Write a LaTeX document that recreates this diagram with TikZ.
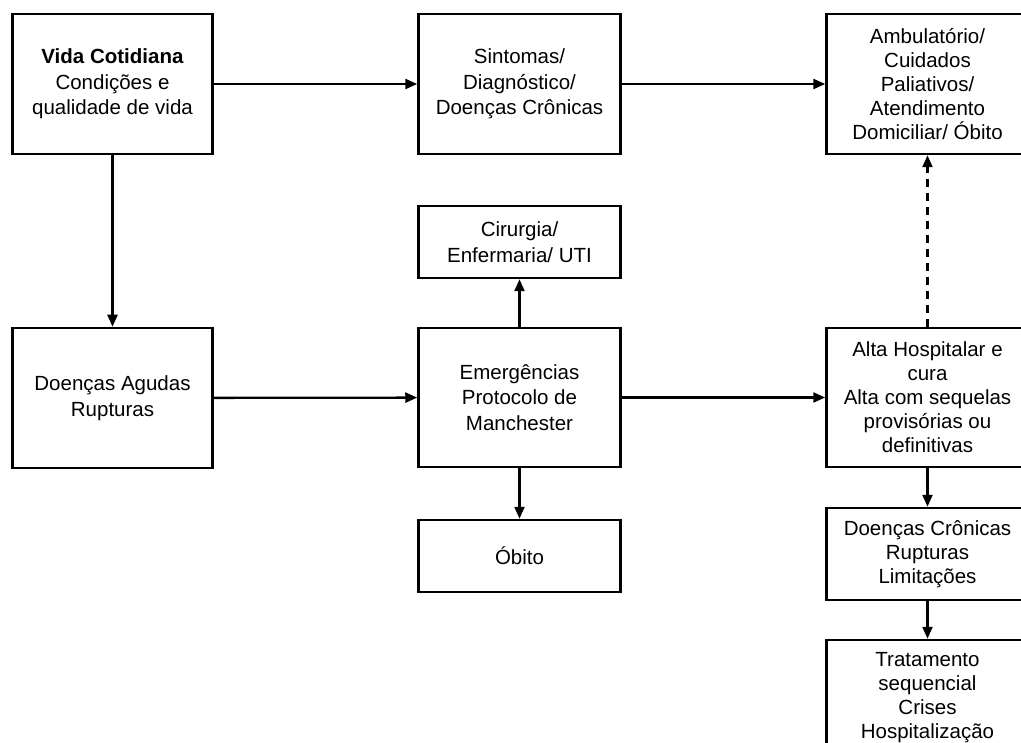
\documentclass[tikz,border=0pt]{standalone}
\usepackage{fontspec}
\setmainfont{Liberation Sans}
\usetikzlibrary{arrows.meta}
\begin{document}
\begin{tikzpicture}[x=1pt,y=-1pt,
  box/.style={draw,line width=2.5pt,rectangle,align=center,inner sep=0pt,
    font=\fontsize{20.5}{25.5}\selectfont},
  tightbox/.style={box,font=\fontsize{20.5}{24}\selectfont},
  conn/.style={line width=2.3pt,-{Triangle[length=12pt,width=10pt]}},
  dconn/.style={conn,dash pattern=on 8pt off 6pt},
]
\useasboundingbox (0,0) rectangle (1021,743);
\clip (0,0) rectangle (1021,743);
\node[box,minimum width=200pt,minimum height=140pt] (vida) at (112.5,84)
  {\textbf{Vida Cotidiana}\\Condições e\\qualidade de vida};
\node[box,minimum width=202pt,minimum height=140pt] (sint) at (519.5,84)
  {Sintomas/\\Diagnóstico/\\Doenças Crônicas};
\node[tightbox,minimum width=202pt,minimum height=140pt] (amb) at (927.5,84)
  {Ambulatório/\\Cuidados\\Paliativos/\\Atendimento\\Domiciliar/ Óbito};
\node[box,minimum width=202pt,minimum height=72pt] (cir) at (519.5,242)
  {Cirurgia/\\Enfermaria/ UTI};
\node[box,minimum width=200pt,minimum height=140pt] (agud) at (112.5,398)
  {Doenças Agudas\\Rupturas};
\node[box,minimum width=202pt,minimum height=139pt] (emer) at (519.5,397.5)
  {Emergências\\Protocolo de\\Manchester};
\node[tightbox,minimum width=202pt,minimum height=139pt] (alta) at (927.5,397.5)
  {Alta Hospitalar e\\cura\\Alta com sequelas\\provisórias ou\\definitivas};
\node[box,minimum width=202pt,minimum height=72pt] (obito) at (519.5,556)
  {Óbito};
\node[tightbox,minimum width=202pt,minimum height=92pt] (cron) at (927.5,554)
  {Doenças Crônicas\\Rupturas\\Limitações};
\node[tightbox,minimum width=202pt,minimum height=116pt] (trat) at (927.5,698)
  {Tratamento\\sequencial\\Crises\\Hospitalização};
\draw[conn] (vida) -- (sint);
\draw[conn] (sint) -- (amb);
\draw[conn] (vida) -- (agud);
\draw[conn] (agud) -- (emer);
\draw[conn] (emer) -- (cir);
\draw[conn] (emer) -- (obito);
\draw[conn] (emer) -- (alta);
\draw[conn] (alta) -- (cron);
\draw[conn] (cron) -- (trat);
\draw[dconn] (alta) -- (amb);
\end{tikzpicture}
\end{document}
